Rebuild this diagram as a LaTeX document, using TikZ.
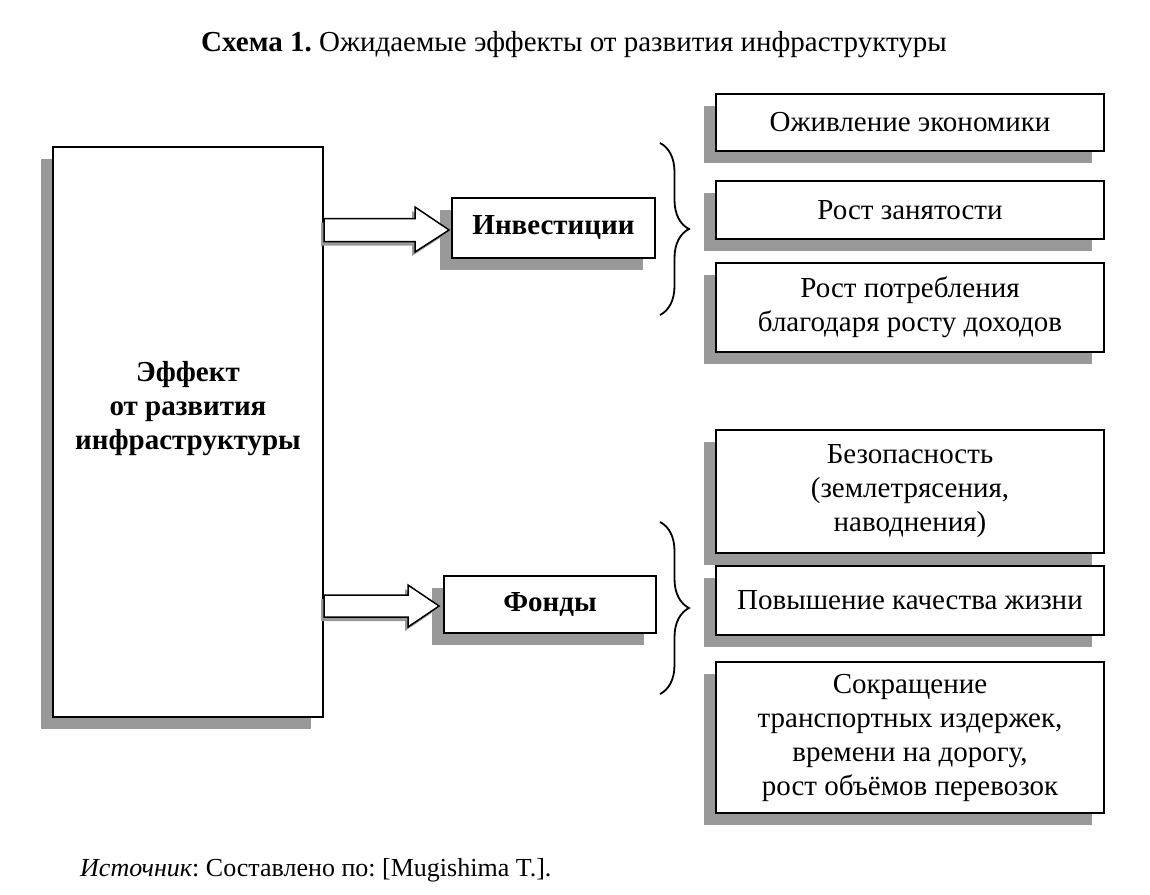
\documentclass[tikz,border=0pt]{standalone}
\usepackage{fontspec}
\setmainfont{Liberation Serif}
\usetikzlibrary{shadows,decorations.pathreplacing,calc}
\definecolor{shgray}{RGB}{153,153,153}
\newcommand{\myfs}{\fontsize{29}{34}\selectfont}
\tikzset{
  bx/.style={draw=black, line width=1.8pt, fill=white, inner sep=0pt, align=center,
    font=\myfs,
    drop shadow={shadow xshift=-12pt, shadow yshift=-12pt, fill=shgray, opacity=1}},
  barrow/.style={draw=black, line width=1.5pt, fill=white, line join=miter,
    drop shadow={shadow xshift=-3pt, shadow yshift=-4pt, fill=shgray, opacity=1}},
  brc/.style={draw=black, line width=1.8pt, decorate, decoration={brace, amplitude=29pt}},
  txt/.style={font=\myfs, inner sep=0pt}
}
\begin{document}
\frenchspacing
\begin{tikzpicture}[x=1pt,y=-1pt]
\useasboundingbox (0,0) rectangle (1150,894);
\node[txt] (title) at (574,45) {\textbf{Схема 1.} Ожидаемые эффекты от развития инфраструктуры};

\node[bx, line width=2.2pt, minimum width=270pt, minimum height=570pt,
  label={[txt, align=center, font=\myfs\bfseries, yshift=23pt]center:Эффект\\от развития\\инфраструктуры}] (main) at (188,432) {};

\node[bx, font=\myfs\bfseries, minimum width=203pt, minimum height=60pt] (inv) at (553.5,228) {Инвестиции};
\node[bx, font=\myfs\bfseries, minimum width=212pt, minimum height=57pt] (fon) at (550,604.5) {Фонды};

\node[bx, minimum width=388pt, minimum height=57pt] (b1) at (910,122.5) {Оживление экономики};
\node[bx, minimum width=388pt, minimum height=58pt] (b2) at (910,210) {Рост занятости};
\node[bx, minimum width=388pt, minimum height=89pt] (b3) at (910,307.5) {Рост потребления\\благодаря росту доходов};
\node[bx, minimum width=388pt, minimum height=123pt] (b4) at (910,491.5) {Безопасность\\(землетрясения,\\наводнения)};
\node[bx, minimum width=388pt, minimum height=69pt] (b5) at (910,600.5) {Повышение качества жизни};
\node[bx, minimum width=388pt, minimum height=151pt] (b6) at (910,737.5) {Сокращение\\транспортных издержек,\\времени на дорогу,\\рост объёмов перевозок};

\coordinate (tI) at ($(inv.west)+(-2,2)$);
\coordinate (tF) at ($(fon.west)+(-4,1.5)$);
\draw[barrow] (main.east |- 0,218.5) -- (415,218.5) -- (415,207) -- (tI) -- (415,252) -- (415,241.5) -- (main.east |- 0,241.5) -- cycle;
\draw[barrow] (main.east |- 0,595) -- (408,595) -- (408,585) -- (tF) -- (408,627) -- (408,617) -- (main.east |- 0,617) -- cycle;

\coordinate (brI1) at (660,143);
\coordinate (brI2) at (660,315);
\coordinate (brF1) at (660,522);
\coordinate (brF2) at (660,694);
\draw[brc] (brI1) -- (brI2);
\draw[brc] (brF1) -- (brF2);

\node[txt, font=\fontsize{26}{30}\selectfont, anchor=west] (src) at (80,870) {\textit{Источник}: Составлено по: [Mugishima T.].};
\end{tikzpicture}
\end{document}
